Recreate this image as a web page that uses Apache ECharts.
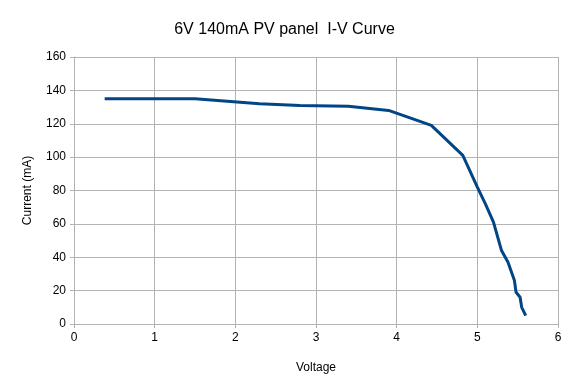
<!DOCTYPE html>
<html>
<head>
<meta charset="utf-8">
<script src="https://cdn.jsdelivr.net/npm/echarts@6/dist/echarts.min.js"></script>
<style>
  html, body { margin: 0; padding: 0; background: #fff; }
  #chart { width: 569px; height: 391px; }
</style>
</head>
<body>
<div id="chart"></div>
<script>
const voltage = [0.38, 1.5, 2.3, 2.8, 3.4, 3.9, 4.43, 4.82, 5.0, 5.1, 5.2, 5.3, 5.38, 5.46, 5.48, 5.53, 5.55, 5.6];
const current = [135, 135, 132, 131, 130.5, 128, 119, 101, 82, 72, 61, 44, 37, 26, 19, 16, 10, 5];
const xTicks = [0, 1, 2, 3, 4, 5, 6];
const yTicks = [0, 20, 40, 60, 80, 100, 120, 140, 160];

const chart = echarts.init(document.getElementById('chart'));
const font = 'Liberation Sans, Arial, sans-serif';
const gridColor = '#b3b3b3';

chart.setOption({
  animation: false,
  title: {
    text: '6V 140mA PV panel  I-V Curve',
    left: 'center',
    top: 17,
    textStyle: { fontFamily: font, fontSize: 16, fontWeight: 'normal', color: '#000' },
  },
  grid: { left: 74, right: 11, top: 57, bottom: 67 },
  xAxis: {
    type: 'value',
    min: xTicks[0],
    max: xTicks[xTicks.length - 1],
    interval: 1,
    name: 'Voltage',
    nameLocation: 'middle',
    nameGap: 38,
    nameTextStyle: { fontFamily: font, fontSize: 12, color: '#000' },
    axisLine: { lineStyle: { color: gridColor } },
    axisTick: { show: true, length: 4, lineStyle: { color: gridColor } },
    axisLabel: { fontFamily: font, fontSize: 12, color: '#000', margin: 8 },
    splitLine: { lineStyle: { color: gridColor } },
  },
  yAxis: {
    type: 'value',
    min: yTicks[0],
    max: yTicks[yTicks.length - 1],
    interval: 20,
    name: 'Current (mA)',
    nameLocation: 'middle',
    nameGap: 40,
    nameTextStyle: { fontFamily: font, fontSize: 12, color: '#000' },
    axisLine: { show: true, lineStyle: { color: gridColor } },
    axisTick: { show: true, length: 4, lineStyle: { color: gridColor } },
    axisLabel: { fontFamily: font, fontSize: 12, color: '#000', margin: 8 },
    splitLine: { lineStyle: { color: gridColor } },
  },
  series: [{
    type: 'line',
    data: voltage.map((v, i) => [v, current[i]]),
    showSymbol: false,
    smooth: false,
    lineStyle: { color: '#004586', width: 3 },
    itemStyle: { color: '#004586' },
  }],
});
</script>
</body>
</html>
